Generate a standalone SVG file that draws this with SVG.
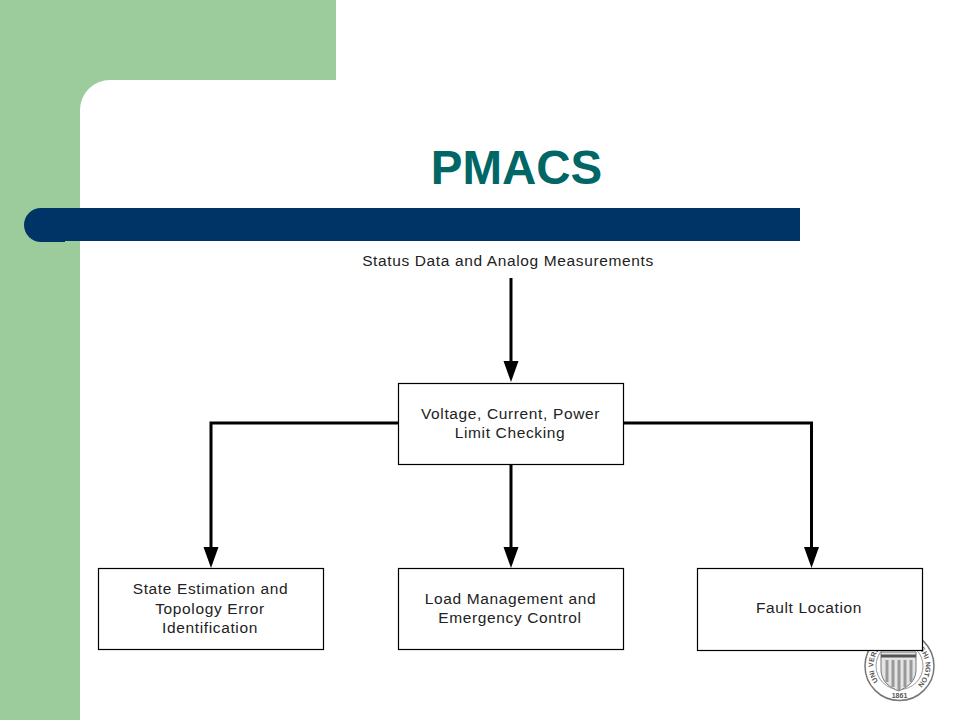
<svg xmlns="http://www.w3.org/2000/svg" width="960" height="720" viewBox="0 0 960 720">
<style>
.box{fill:#fff;stroke:#000;stroke-width:1.2}
.lbl{font-family:"Liberation Sans",Arial,sans-serif;font-size:15.5px;fill:#222;text-anchor:middle;letter-spacing:.63px}
.wire{fill:none;stroke:#000;stroke-width:3}
.seal{font-family:"Liberation Sans",Arial,sans-serif;font-size:7px;font-weight:700;fill:#555}
</style>
<defs>
<marker id="arrow" markerUnits="userSpaceOnUse" markerWidth="22" markerHeight="16" refX="11" refY="8" orient="auto" viewBox="0 0 22 16"><path d="M0 0.500L21 8L0 15.500Z" fill="#000"/></marker>
</defs>
<g id="background">
<rect x="0" y="0" width="336" height="720" fill="#9ccc9c"/>
<path d="M80 720V110A30 30 0 0 1 110 80H336V720Z" fill="#fff"/>
<rect x="336" y="0" width="624" height="720" fill="#fff"/>
<path d="M800 208H41A16.500 16.500 0 0 0 41 242H65V241H800Z" fill="#003366"/>
</g>
<text id="title" x="516.500" y="184" font-family="Liberation Sans,Arial,sans-serif" font-size="47.500" font-weight="700" fill="#006666" text-anchor="middle">PMACS</text>
<g id="seal">
<circle cx="899.500" cy="666" r="34.500" fill="#fff" stroke="#777" stroke-width="1.500"/>
<circle cx="899.500" cy="666" r="23.500" fill="#fff" stroke="#999" stroke-width="1"/>
<path d="M881 652H916V670C916 682 906 688 898.500 691C891 688 881 682 881 670Z" fill="#e4e4e4" stroke="#777"/>
<path d="M881 656H916" stroke="#555" stroke-width="3" fill="none"/>
<path d="M887 660V682M893 660V687M899 660V690M905 660V687M911 660V682" stroke="#999" stroke-width="3" fill="none"/>
<text class="seal" x="878.200 875.800 874.200 873.500 873.800 875 877 879.900 883.500 887.600 892.200 897.100 901.900 906.800 911.400 915.500 919.100 922 924 925.200 925.500 924.800 923.200 920.800" y="680.900 676.600 672 667.100 662.200 657.400 652.900 648.900 645.500 642.900 641 640.100 640.100 641 642.900 645.500 648.900 652.900 657.400 662.200 667.100 672 676.600 680.900" rotate="-125 -114 -103 -92 -81 -71 -60 -49 -38 -27 -16 -5 5 16 27 38 49 60 71 81 92 103 114 125">UNIVERSITY OF WASHINGTON</text>
<text class="seal" x="899.500" y="698" text-anchor="middle">1861</text>
</g>
<g id="connectors">
<path class="wire" d="M511 278V372" marker-end="url(#arrow)"/>
<path class="wire" d="M511 464V558" marker-end="url(#arrow)"/>
<path class="wire" d="M398 423H211V558" marker-end="url(#arrow)"/>
<path class="wire" d="M624 423H811.500V558" marker-end="url(#arrow)"/>
</g>
<text id="input" class="lbl" x="508" y="266">Status Data and Analog Measurements</text>
<g id="limit"><rect class="box" x="398.500" y="383.500" width="225" height="81"/><text class="lbl" x="510.500" y="419">Voltage, Current, Power</text><text class="lbl" x="510" y="438">Limit Checking</text></g>
<g id="state"><rect class="box" x="98.500" y="568.500" width="225" height="81"/><text class="lbl" x="210.500" y="594">State Estimation and</text><text class="lbl" x="210" y="614">Topology Error</text><text class="lbl" x="210" y="633">Identification</text></g>
<g id="load"><rect class="box" x="398.500" y="568.500" width="225" height="81"/><text class="lbl" x="510.500" y="604">Load Management and</text><text class="lbl" x="510" y="623">Emergency Control</text></g>
<g id="fault"><rect class="box" x="697.500" y="568.500" width="225" height="82"/><text class="lbl" x="809" y="613">Fault Location</text></g>
</svg>
